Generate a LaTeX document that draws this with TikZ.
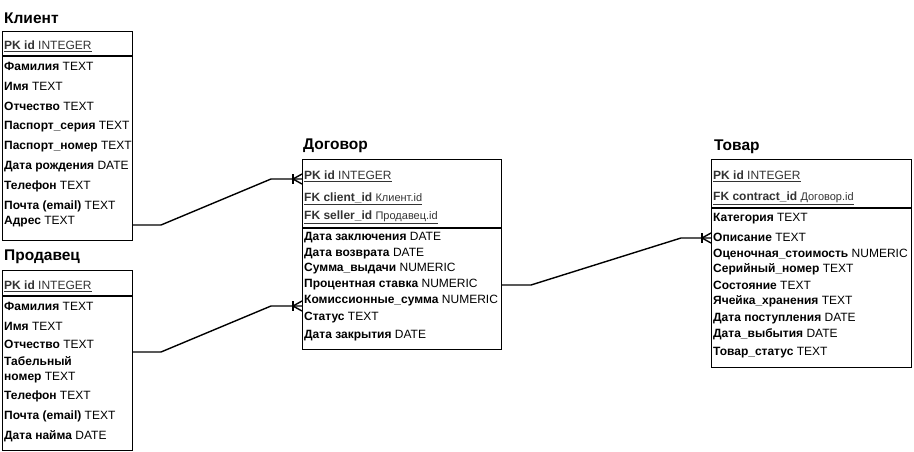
\documentclass[tikz,border=0pt]{standalone}
\usepackage{fontspec}
\setmainfont{Liberation Sans}
\usetikzlibrary{calc}
\definecolor{pkgray}{HTML}{333333}
\newcommand\crowfoot[1]{%
  \draw[conn] ($(#1)+(-9,-5)$) -- ($(#1)+(-9,5)$);
  \draw[conn] ($(#1)+(-9,0)$) -- ($(#1)+(0,-5)$);
  \draw[conn] ($(#1)+(-9,0)$) -- ($(#1)+(0,5)$);
}
\begin{document}
\begin{tikzpicture}[x=1pt,y=-1pt,
  tbl/.style={draw, line width=1pt, anchor=north west, inner sep=0pt, outer sep=0pt},
  sep/.style={line width=2.6pt},
  row/.style={anchor=west, inner sep=0pt, yshift=-1.5pt, font=\fontsize{12}{14}\selectfont},
  title/.style={anchor=west, inner sep=0pt, yshift=-1pt, font=\fontsize{15.5}{17}\selectfont\bfseries},
  conn/.style={line width=1.4pt},
  pk/.style={row, text=pkgray}]
\useasboundingbox (0,0) rectangle (914,451);

% ---------- Клиент ----------
\node[title] (tClient) at (4,17) {Клиент};
\node[tbl, minimum width=130pt, minimum height=209pt] (client) at (2,31) {};
\draw[sep] (2,56) -- (132,56);
\node[pk] (c0) at (4,45) {\underline{\textbf{PK id} INTEGER}};
\node[row] (c1) at (4,65) {\textbf{Фамилия} TEXT};
\node[row] (c2) at (4,85) {\textbf{Имя} TEXT};
\node[row] (c3) at (4,105) {\textbf{Отчество} TEXT};
\node[row] (c4) at (4,125) {\textbf{Паспорт\_серия} TEXT};
\node[row] (c5) at (4,145) {\textbf{Паспорт\_номер} TEXT};
\node[row] (c6) at (4,165) {\textbf{Дата рождения} DATE};
\node[row] (c7) at (4,185) {\textbf{Телефон} TEXT};
\node[row] (c8) at (4,205) {\textbf{Почта (email)} TEXT};
\node[row] (c9) at (4,220) {\textbf{Адрес} TEXT};

% ---------- Продавец ----------
\node[title] (tSeller) at (4,256) {Продавец};
\node[tbl, minimum width=130pt, minimum height=180pt] (seller) at (2,270) {};
\draw[sep] (2,296) -- (132,296);
\node[pk] (s0) at (4,285) {\underline{\textbf{PK id} INTEGER}};
\node[row] (s1) at (4,305) {\textbf{Фамилия} TEXT};
\node[row] (s2) at (4,325) {\textbf{Имя} TEXT};
\node[row] (s3) at (4,343) {\textbf{Отчество} TEXT};
\node[row] (s4) at (4,360) {\textbf{Табельный}};
\node[row] (s5) at (4,376) {\textbf{номер} TEXT};
\node[row] (s6) at (4,395) {\textbf{Телефон} TEXT};
\node[row] (s7) at (4,415) {\textbf{Почта (email)} TEXT};
\node[row] (s8) at (4,435) {\textbf{Дата найма} DATE};

% ---------- Договор ----------
\node[title] (tContract) at (303,145) {Договор};
\node[tbl, minimum width=199pt, minimum height=190pt] (contract) at (302,159) {};
\draw[sep] (302,228) -- (501,228);
\node[pk] (d0) at (304,175) {\underline{\textbf{PK id} INTEGER}};
\node[pk] (d1) at (304,197) {\underline{\textbf{FK client\_id} {\fontsize{11}{12}\selectfont Клиент.id}}};
\node[pk] (d2) at (304,216) {\underline{\textbf{FK seller\_id} {\fontsize{11}{12}\selectfont Продавец.id}}};
\node[row] (d3) at (304,236) {\textbf{Дата заключения} DATE};
\node[row] (d4) at (304,252) {\textbf{Дата возврата} DATE};
\node[row] (d5) at (304,267) {\textbf{Сумма\_выдачи} NUMERIC};
\node[row] (d6) at (304,283) {\textbf{Процентная ставка} NUMERIC};
\node[row] (d7) at (304,299) {\textbf{Комиссионные\_сумма} NUMERIC};
\node[row] (d8) at (304,316) {\textbf{Статус} TEXT};
\node[row] (d9) at (304,334) {\textbf{Дата закрытия} DATE};

% ---------- Товар ----------
\node[title] (tGoods) at (714,146) {Товар};
\node[tbl, minimum width=200pt, minimum height=208pt] (goods) at (711,159) {};
\draw[sep] (711,208) -- (911,208);
\node[pk] (g0) at (713,175) {\underline{\textbf{PK id} INTEGER}};
\node[pk] (g1) at (713,197) {\underline{\textbf{FK contract\_id} {\fontsize{11}{12}\selectfont Договор.id}}};
\node[row] (g2) at (713,217) {\textbf{Категория} TEXT};
\node[row] (g3) at (713,236) {\textbf{Описание} TEXT};
\node[row] (g4) at (713,253) {\textbf{Оценочная\_стоимость} NUMERIC};
\node[row] (g5) at (713,268) {\textbf{Серийный\_номер} TEXT};
\node[row] (g6) at (713,284) {\textbf{Состояние} TEXT};
\node[row] (g7) at (713,300) {\textbf{Ячейка\_хранения} TEXT};
\node[row] (g8) at (713,317) {\textbf{Дата поступления} DATE};
\node[row] (g9) at (713,333) {\textbf{Дата\_выбытия} DATE};
\node[row] (g10) at (713,351) {\textbf{Товар\_статус} TEXT};

% ---------- connectors ----------
\coordinate (a1) at (client.east |- 0,225);
\coordinate (a2) at (contract.west |- 0,179);
\coordinate (b1) at (seller.east |- 0,352);
\coordinate (b2) at (contract.west |- 0,306);
\coordinate (e1) at (contract.east |- 0,285);
\coordinate (e2) at (goods.west |- 0,238);

\draw[conn] (a1) -- (161,225) -- (271,179) -- (a2);
\crowfoot{a2}
\draw[conn] (b1) -- (161,352) -- (271,306) -- (b2);
\crowfoot{b2}
\draw[conn] (e1) -- (531,285) -- (681,238) -- (e2);
\crowfoot{e2}
\end{tikzpicture}
\end{document}
